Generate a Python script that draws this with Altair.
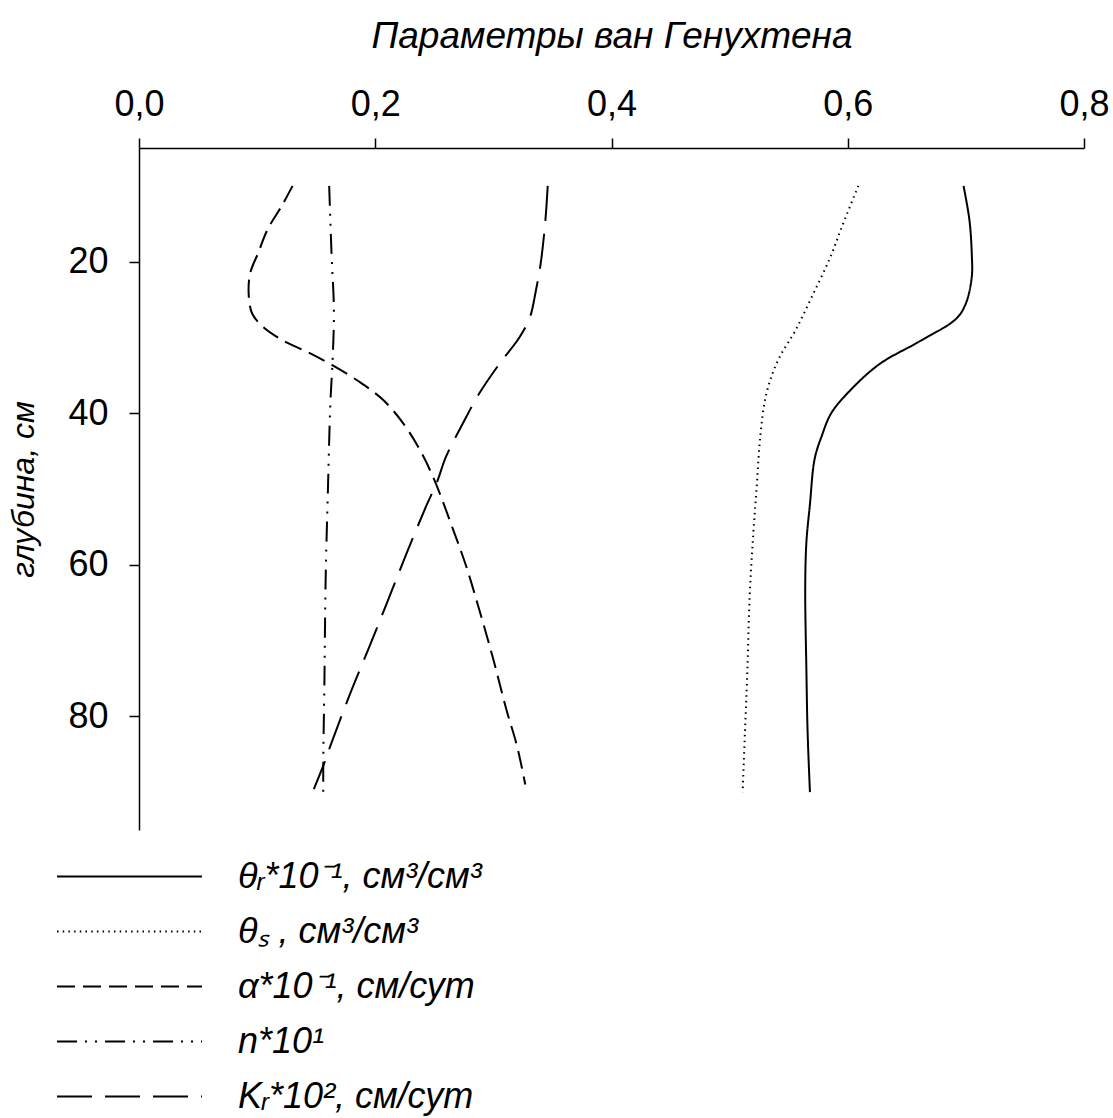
import altair as alt
import pandas as pd

FONT = "Liberation Sans"

series_order = ["theta_r", "theta_s", "alpha", "n", "K_r"]
legend_labels = ["θᵣ*10⁻¹, см³/см³", "θₛ , см³/см³", "α*10⁻¹, см/сут", "n*10¹", "Kᵣ*10², см/сут"]
dash_patterns = [[1, 0], [1.5, 4.2], [18, 8], [20, 8, 2, 8, 2, 8], [35, 13]]

x_ticks = [0.0, 0.2, 0.4, 0.6, 0.8]
y_ticks = [20, 40, 60, 80]

depth_theta_r = [10, 14.5, 19, 22, 25.5, 27.5, 30.5, 33.5, 37, 40, 43, 46, 52, 57, 63, 74, 82, 90]
theta_r = [0.698, 0.703, 0.705, 0.705, 0.700, 0.692, 0.661, 0.627, 0.602, 0.586, 0.578, 0.572,
           0.568, 0.565, 0.564, 0.565, 0.566, 0.568]

depth_theta_s = [10, 15, 19.5, 24.5, 29, 33, 37.5, 43, 49.5, 56, 64, 74, 82, 90]
theta_s = [0.609, 0.596, 0.585, 0.570, 0.556, 0.541, 0.531, 0.526, 0.523, 0.520, 0.517, 0.515,
           0.513, 0.511]

depth_alpha = [10, 12.6, 15.7, 18.8, 21.6, 24.7, 26.9, 28.6, 30.4, 32.1, 33.7, 35.9, 38.3, 41.4,
               44.9, 48.8, 55.4, 60.2, 65.9, 72.5, 79.1, 83.9, 89]
alpha = [0.130, 0.121, 0.109, 0.101, 0.094, 0.093, 0.096, 0.105, 0.122, 0.145, 0.164, 0.187,
         0.207, 0.224, 0.238, 0.250, 0.266, 0.277, 0.288, 0.300, 0.311, 0.320, 0.327]

depth_n = [10, 19, 26.4, 32.6, 38.7, 49.7, 62, 75, 86, 90]
n_param = [0.161, 0.163, 0.165, 0.164, 0.162, 0.160, 0.158, 0.157, 0.156, 0.156]

depth_k_r = [10, 14.6, 20.3, 23.8, 27.3, 30, 33.5, 37.4, 41.4, 45.7, 49.2, 52.3, 58.7, 65, 71.2,
             77.3, 83.9, 86.1, 89.6]
k_r = [0.346, 0.344, 0.340, 0.336, 0.331, 0.322, 0.305, 0.288, 0.274, 0.260, 0.252, 0.243,
       0.226, 0.210, 0.194, 0.178, 0.162, 0.157, 0.148]

rows = []
for name, depths, vals in [
    ("theta_r", depth_theta_r, theta_r),
    ("theta_s", depth_theta_s, theta_s),
    ("alpha", depth_alpha, alpha),
    ("n", depth_n, n_param),
    ("K_r", depth_k_r, k_r),
]:
    for i, (d, v) in enumerate(zip(depths, vals)):
        rows.append({"series": name, "depth": d, "value": v, "idx": i})
df = pd.DataFrame(rows)

legend_df = pd.DataFrame({"series": series_order, "label": legend_labels})

dash_scale = alt.Scale(domain=series_order, range=dash_patterns)

main = alt.Chart(df).mark_line(
    color="black", strokeWidth=2, interpolate="catmull-rom"
).encode(
    x=alt.X(
        "value:Q",
        scale=alt.Scale(domain=[0, 0.8], nice=False, zero=False),
        axis=alt.Axis(
            orient="top",
            values=x_ticks,
            labelExpr="replace(format(datum.value, '.1f'), '.', ',')",
            title="Параметры ван Генухтена",
            titleFontSize=37,
            labelFlush=False,
            labelOverlap=False,
            labelPadding=15,
            titlePadding=31,
        ),
    ),
    y=alt.Y(
        "depth:Q",
        scale=alt.Scale(domain=[5, 95], reverse=True, nice=False, zero=False),
        axis=alt.Axis(
            values=y_ticks,
            title="глубина, см",
            titleFontSize=32,
            labelFlush=False,
            labelOverlap=False,
            labelPadding=21,
            titlePadding=27,
        ),
    ),
    detail="series:N",
    strokeDash=alt.StrokeDash("series:N", scale=dash_scale, legend=None),
    order="idx:Q",
).properties(width=945, height=682)

legend_y = alt.Y("series:N", sort=series_order, axis=None,
                 scale=alt.Scale(domain=series_order))

legend_rule = alt.Chart(legend_df).mark_rule(color="black", strokeWidth=2).encode(
    x=alt.value(-82),
    x2=alt.value(63),
    y=legend_y,
    strokeDash=alt.StrokeDash("series:N", scale=dash_scale, legend=None),
)

legend_text = alt.Chart(legend_df).mark_text(
    align="left", baseline="middle", fontSize=36, fontStyle="italic", font=FONT, color="black"
).encode(
    x=alt.value(99),
    y=legend_y,
    text="label:N",
)

legend = alt.layer(legend_rule, legend_text).properties(width=560, height=275)

chart = alt.vconcat(main, legend, spacing=19).properties(
    padding={"left": 7, "top": 17, "right": 0, "bottom": 0}
).configure_view(stroke=None).configure_axis(
    domainColor="black",
    domainWidth=1.5,
    tickColor="black",
    tickWidth=1.5,
    tickSize=10,
    grid=False,
    labelFont=FONT,
    labelFontSize=36,
    labelColor="black",
    titleFont=FONT,
    titleFontStyle="italic",
    titleFontWeight="normal",
    titleColor="black",
)

chart.save("out.html", embed_options={"renderer": "svg", "actions": False})
